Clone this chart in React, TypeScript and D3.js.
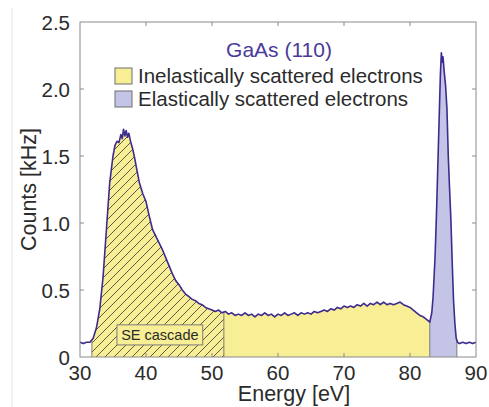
import React from 'react';
import * as d3 from 'd3';

// spectrum: energy [eV] and count rate [kHz]
const energy = [
  30, 30.5, 31, 31.5, 32, 32.5, 33, 33.5, 34, 34.5, 35, 35.3, 35.6, 35.9, 36.2, 36.4, 36.6, 36.8, 37.0, 37.2,
  37.4, 37.7, 38.0, 38.3, 38.6, 39.0, 39.5, 40, 40.5, 41, 41.5, 42, 42.5, 43, 43.5, 44, 44.5, 45, 45.5, 46,
  46.5, 47, 47.5, 48, 48.5, 49, 49.5, 50, 50.5, 51, 51.5, 52, 52.5, 53, 53.5, 54, 54.5, 55, 55.5, 56,
  56.5, 57, 57.5, 58, 58.5, 59, 59.5, 60, 60.5, 61, 61.5, 62, 62.5, 63, 63.5, 64, 64.5, 65, 65.5, 66,
  66.5, 67, 67.5, 68, 68.5, 69, 69.5, 70, 70.5, 71, 71.5, 72, 72.5, 73, 73.5, 74, 74.5, 75, 75.5, 76,
  76.5, 77, 77.5, 78, 78.5, 79, 79.5, 80, 80.5, 81, 81.5, 82, 82.5, 83, 83.3, 83.5, 83.8, 84.0, 84.2, 84.4,
  84.6, 84.75, 84.9, 85.0, 85.2, 85.4, 85.6, 85.8, 86.0, 86.2, 86.4, 86.6, 86.8, 87.0, 87.2, 87.5, 88, 88.5, 89, 89.5,
  90
];
const counts = [
  0.11, 0.10, 0.11, 0.11, 0.14, 0.22, 0.36, 0.60, 0.95, 1.30, 1.50, 1.58, 1.61, 1.60, 1.66, 1.63, 1.70, 1.65, 1.69, 1.64,
  1.67, 1.60, 1.55, 1.48, 1.40, 1.30, 1.22, 1.16, 1.05, 0.95, 0.90, 0.85, 0.80, 0.74, 0.68, 0.62, 0.57, 0.54, 0.50, 0.47,
  0.45, 0.43, 0.42, 0.40, 0.39, 0.37, 0.36, 0.35, 0.34, 0.35, 0.33, 0.34, 0.32, 0.33, 0.31, 0.32, 0.31, 0.33, 0.31, 0.32,
  0.30, 0.32, 0.31, 0.33, 0.31, 0.32, 0.30, 0.32, 0.31, 0.33, 0.31, 0.32, 0.33, 0.31, 0.33, 0.32, 0.33, 0.32, 0.34, 0.33,
  0.34, 0.35, 0.34, 0.36, 0.35, 0.37, 0.36, 0.38, 0.37, 0.38, 0.37, 0.39, 0.38, 0.40, 0.38, 0.40, 0.39, 0.41, 0.39, 0.41,
  0.39, 0.40, 0.39, 0.40, 0.41, 0.39, 0.38, 0.37, 0.35, 0.33, 0.31, 0.30, 0.28, 0.26, 0.33, 0.45, 0.75, 1.05, 1.40, 1.75,
  2.10, 2.27, 2.20, 2.24, 2.12, 2.02, 1.85, 1.50, 1.25, 1.02, 0.70, 0.42, 0.25, 0.14, 0.11, 0.10, 0.11, 0.10, 0.11, 0.10,
  0.11
];

const xTicks = [30, 40, 50, 60, 70, 80, 90];
const yTicks = [0, 0.5, 1.0, 1.5, 2.0, 2.5];

// shaded energy windows
const seRange = [31.8, 51.8];
const inelasticRange = [51.8, 83.0];
const elasticRange = [83.0, 87.1];

const legendTitle = 'GaAs (110)';
const legendItems = [
  { label: 'Inelastically scattered electrons', fill: '#f8ee96' },
  { label: 'Elastically scattered electrons', fill: '#c3c4e6' }
];

const font = '"Liberation Sans", Arial, Helvetica, sans-serif';

export default function App() {
  const margin = { top: 22, right: 13, bottom: 50, left: 80 };
  const width = 489, height = 407;
  const w = width - margin.left - margin.right;
  const h = height - margin.top - margin.bottom;

  const x = d3.scaleLinear().domain([30, 90]).range([0, w]);
  const y = d3.scaleLinear().domain([0, 2.5]).range([h, 0]);

  const data = energy.map((e, i) => ({ e, c: counts[i] }));

  const line = d3.line<any>().x(d => x(d.e)).y(d => y(d.c));
  const area = d3.area<any>().x(d => x(d.e)).y0(h).y1(d => y(d.c));

  // value on the curve at a given energy, for the boundary lines
  const at = (e: number) => {
    const i = d3.bisector((d: any) => d.e).left(data, e);
    if (i <= 0) return data[0].c;
    const a = data[i - 1], b = data[i];
    return a.c + (b.c - a.c) * (e - a.e) / (b.e - a.e);
  };

  const regions = [
    { id: 'clipSE', r: seRange, fill: '#f8ee96', hatch: true },
    { id: 'clipIn', r: inelasticRange, fill: '#f8ee96', hatch: false },
    { id: 'clipEl', r: elasticRange, fill: '#c3c4e6', hatch: false }
  ];
  const borders = [seRange[0], seRange[1], elasticRange[0], elasticRange[1]];

  const axisColor = '#8a8a8a';
  const textColor = '#2b2b2b';

  return (
    <svg width={width} height={height} style={{ position: 'absolute', left: 0, top: 0, background: '#fff' }}>
      <defs>
        {regions.map(r => (
          <clipPath id={r.id} key={r.id}>
            <rect x={x(r.r[0])} y={0} width={x(r.r[1]) - x(r.r[0])} height={h} />
          </clipPath>
        ))}
        <pattern id="hatch" patternUnits="userSpaceOnUse" width={9} height={9}>
          <path d="M-1,1 L1,-1 M0,9 L9,0 M8,10 L10,8" stroke="#333" strokeWidth={0.8} />
        </pattern>
      </defs>
      <line x1={12} x2={12} y1={8} y2={height} stroke="#e2e2e2" strokeWidth={1} />
      <g transform={`translate(${margin.left},${margin.top})`}>
        {regions.map(r => (
          <g key={r.id} clipPath={`url(#${r.id})`}>
            <path d={area(data) || ''} fill={r.fill} />
            {r.hatch && <path d={area(data) || ''} fill="url(#hatch)" />}
          </g>
        ))}
        {borders.map((e, i) => (
          <line key={i} x1={x(e)} x2={x(e)} y1={h} y2={y(at(e))} stroke="#7a7a7a" strokeWidth={1} />
        ))}

        <rect x={x(35.6)} y={y(0.24)} width={x(48.6) - x(35.6)} height={y(0.09) - y(0.24)}
          fill="#f8ee96" stroke="#7a7a7a" strokeWidth={1} />
        <text x={(x(35.6) + x(48.6)) / 2} y={y(0.165) + 5} textAnchor="middle" fontFamily={font}
          fontSize={14.5} fill={textColor}>SE cascade</text>

        <path d={line(data) || ''} fill="none" stroke="#3d2b8e" strokeWidth={1.6} strokeLinejoin="round" />

        {/* box frame with inward ticks */}
        <rect x={0} y={0} width={w} height={h} fill="none" stroke={axisColor} strokeWidth={1} />
        {xTicks.slice(1, -1).map(t => (
          <g key={'xt' + t}>
            <line x1={x(t)} x2={x(t)} y1={h} y2={h - 4} stroke={axisColor} />
            <line x1={x(t)} x2={x(t)} y1={0} y2={4} stroke={axisColor} />
          </g>
        ))}
        {yTicks.slice(1, -1).map(t => (
          <g key={'yt' + t}>
            <line x1={0} x2={4} y1={y(t)} y2={y(t)} stroke={axisColor} />
            <line x1={w} x2={w - 4} y1={y(t)} y2={y(t)} stroke={axisColor} />
          </g>
        ))}
        {xTicks.map(t => (
          <text key={'xl' + t} x={x(t)} y={h + 23} textAnchor="middle" fontFamily={font} fontSize={20.5}
            fill={textColor}>{t}</text>
        ))}
        {yTicks.map(t => (
          <text key={'yl' + t} x={-10} y={y(t) + 8} textAnchor="end"
            fontFamily={font} fontSize={20.5} fill={textColor}>{t === 0 ? '0' : t.toFixed(1)}</text>
        ))}

        <text x={214} y={h + 44} textAnchor="middle" fontFamily={font} fontSize={21.5}
          fill={textColor}>Energy [eV]</text>
        <text transform={`translate(${-44},${h / 2}) rotate(-90)`} textAnchor="middle" fontFamily={font}
          fontSize={21.5} fill={textColor}>Counts [kHz]</text>

        {/* legend */}
        <text x={199} y={35} textAnchor="middle" fontFamily={font} fontSize={21} fill="#4b3a99">{legendTitle}</text>
        {legendItems.map((it, i) => (
          <g key={it.label} transform={`translate(35,${46 + i * 23})`}>
            <rect x={0} y={0} width={17} height={16} fill={it.fill} stroke="#6e6e6e" strokeWidth={1} />
            <text x={23} y={15} fontFamily={font} fontSize={20.5} fill={textColor}>{it.label}</text>
          </g>
        ))}
      </g>
    </svg>
  );
}
